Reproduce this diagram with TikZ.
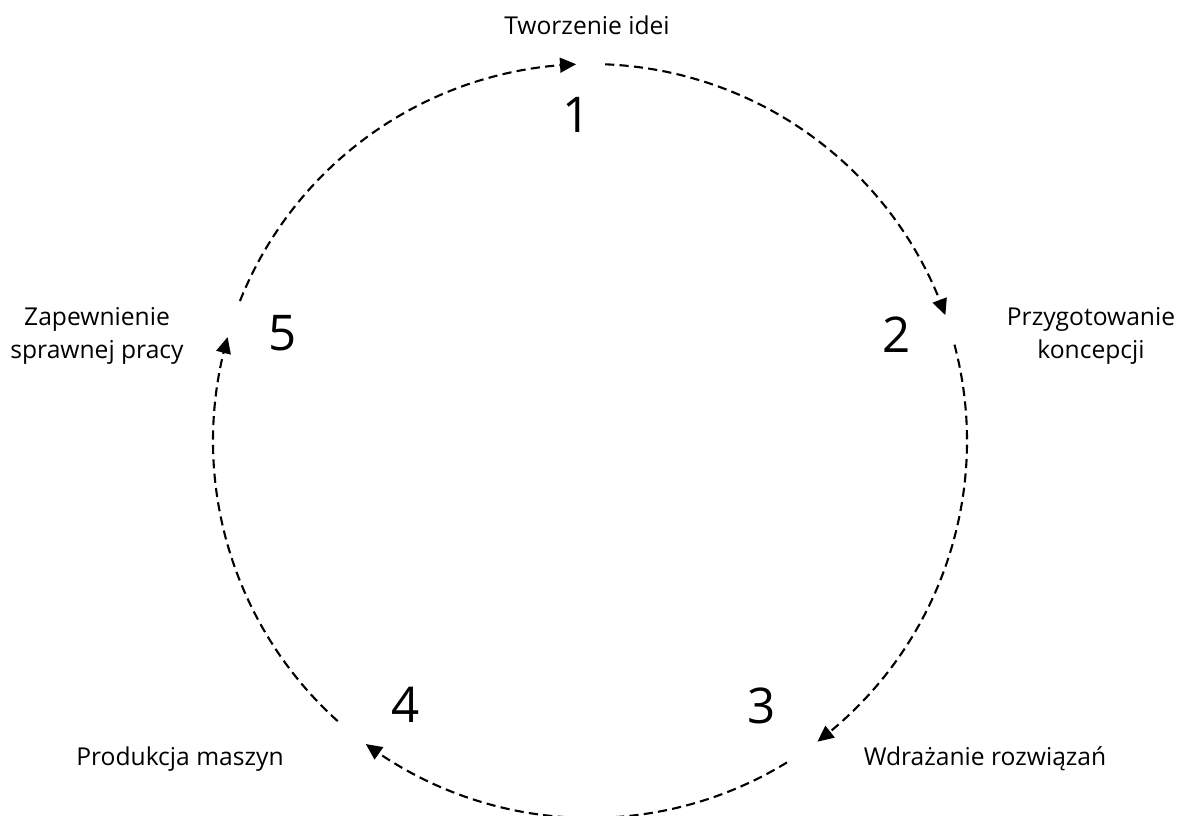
\documentclass[tikz,border=0pt]{standalone}
\usepackage{fontspec}
\setmainfont{Open Sans}
\usetikzlibrary{arrows.meta,bending,calc}
\begin{document}
\begin{tikzpicture}[x=0.01cm,y=0.01cm,
  flow/.style={line width=0.6pt, dash pattern=on 2.6pt off 1.5pt,
    -{Triangle[length=4.6pt,width=4.2pt,flex]}},
  lbl/.style={font=\fontsize{7}{9.6}\selectfont, align=center, inner sep=0pt},
  num/.style={font=\fontsize{14}{16}\selectfont, inner sep=0pt}]
\useasboundingbox (0,0) rectangle (1179,816);
\coordinate (c) at (590,375);
% arc end points
\coordinate (s51) at ($(c)+(158.2:377)$);
\coordinate (s12) at ($(c)+(87.7:377)$);
\coordinate (s23) at ($(c)+(14.8:377)$);
\coordinate (s34) at ($(c)+(-58.5:377)$);
\coordinate (s45) at ($(c)+(-132:377)$);
\draw[flow] (s51) arc[start angle=158.2, end angle=92.1, radius=377];
\draw[flow] (s12) arc[start angle=87.7, end angle=19.5, radius=377];
\draw[flow] (s23) arc[start angle=14.8, end angle=-52.9, radius=377];
\draw[flow] (s34) arc[start angle=-58.5, end angle=-126.5, radius=377];
\draw[flow] (s45) arc[start angle=-132, end angle=-196, radius=377];
% numbers
\node[num] (n1) at (577,701) {1};
\node[num] (n2) at (897,481) {2};
\node[num] (n3) at (762,110) {3};
\node[num] (n4) at (406,111) {4};
\node[num] (n5) at (283,483) {5};
% labels
\node[lbl] (l1) at (587,791) {Tworzenie idei};
\node[lbl] (l2) at (1091,480) {Przygotowanie\\koncepcji};
\node[lbl] (l3) at (985,57) {Wdrażanie rozwiązań};
\node[lbl] (l4) at (180,57) {Produkcja maszyn};
\node[lbl] (l5) at (97,480) {Zapewnienie\\sprawnej pracy};
\end{tikzpicture}
\end{document}
